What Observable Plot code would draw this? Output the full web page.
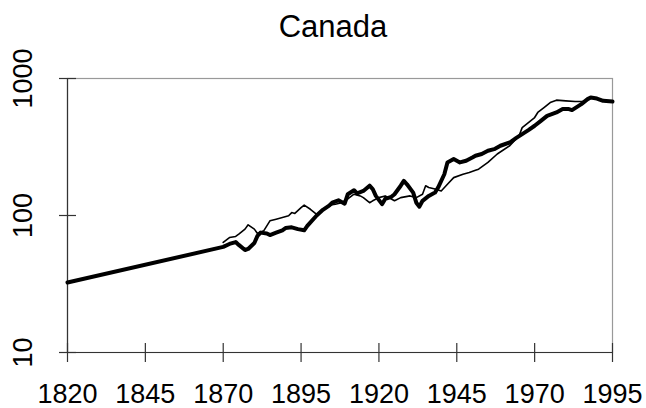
<!DOCTYPE html>
<html>
<head>
<meta charset="utf-8">
<script src="https://cdn.jsdelivr.net/npm/d3@7"></script>
<script src="https://cdn.jsdelivr.net/npm/@observablehq/plot@0.6"></script>
<style>
  html, body { margin: 0; padding: 0; background: #fff; }
  #title { width: 646px; height: 39px; padding-top: 11px; padding-left: 20px; box-sizing: content-box;
           text-align: center; font-family: "Liberation Sans", Arial, sans-serif; font-size: 31px; line-height: 31px; color: #000; width: 626px; }
  svg { display: block; }
</style>
</head>
<body>
<div id="title">Canada</div>
<div id="chart"></div>
<script>
const xTicks = [1820, 1845, 1870, 1895, 1920, 1945, 1970, 1995];
const yTicks = [10, 100, 1000];

const thickYears = [1820, 1870, 1872, 1874, 1875, 1877, 1878, 1880, 1881, 1882, 1884, 1885, 1887, 1889, 1890, 1892, 1894, 1896, 1897, 1900, 1902, 1904, 1905, 1907, 1909, 1910, 1912, 1913, 1915, 1917, 1918, 1919, 1921, 1922, 1924, 1925, 1927, 1928, 1929, 1931, 1932, 1933, 1934, 1936, 1938, 1939, 1941, 1942, 1944, 1946, 1948, 1950, 1951, 1953, 1955, 1957, 1959, 1962, 1964, 1966, 1968, 1970, 1972, 1974, 1977, 1979, 1981, 1982, 1985, 1987, 1988, 1990, 1992, 1995];
const thickValues = [32.4, 59, 62, 64, 61, 56, 57, 63, 71, 75, 74, 72, 75, 78, 81, 82, 79.5, 78, 84, 100, 110, 118, 124, 129, 122, 143, 153, 145, 151, 165, 156, 139, 121, 132, 137, 143, 165, 179, 169, 147, 124, 116, 128, 139, 147, 160, 200, 244, 258, 244, 251, 265, 273, 281, 297, 305, 323, 341, 367, 393, 420, 452, 491, 534, 565, 598, 598, 588, 650, 707, 727, 714, 687, 679];

const thinYears = [1870, 1872, 1874, 1875, 1877, 1878, 1880, 1881, 1883, 1885, 1887, 1889, 1891, 1892, 1893, 1895, 1896, 1898, 1900, 1901, 1903, 1905, 1906, 1908, 1910, 1912, 1914, 1915, 1917, 1918, 1920, 1922, 1924, 1925, 1927, 1930, 1932, 1934, 1935, 1936, 1938, 1940, 1942, 1944, 1947, 1949, 1951, 1952, 1955, 1958, 1962, 1965, 1966, 1968, 1970, 1971, 1973, 1975, 1977, 1980, 1983, 1986, 1988];
const thinValues = [63.6, 69, 70.3, 73, 79.5, 85.5, 79.5, 74, 77.3, 91.4, 94, 96.6, 99.5, 105, 103.5, 114, 119, 111, 102, 106, 113, 120, 121, 124, 132, 143, 139, 135, 124, 128, 135, 139, 132, 128, 135, 139, 135, 143, 165, 160, 156, 151, 169, 189, 200, 206, 214, 218, 244, 281, 323, 382, 438, 477, 519, 565, 614, 668, 695, 687, 679, 679, 720];

const thick = thickYears.map((y, i) => ({year: y, value: thickValues[i]}));
const thin = thinYears.map((y, i) => ({year: y, value: thinValues[i]}));

const W = 646, H = 358;
const mt = 28, mb = 56, ml = 67, mr = 34;
const fw = W - ml - mr, fh = H - mt - mb;
const font = "'Liberation Sans', Arial, sans-serif";

const chart = Plot.plot({
  width: W,
  height: H,
  marginTop: mt,
  marginBottom: mb,
  marginLeft: ml,
  marginRight: mr,
  style: {fontFamily: font, background: "#fff", color: "#000", overflow: "visible"},
  x: {domain: [1820, 1995], axis: null},
  y: {type: "log", domain: [10, 1000], axis: null},
  marks: [
    Plot.frame({stroke: "#999", strokeWidth: 1.2}),
    Plot.ruleX([1820], {stroke: "#333", strokeWidth: 1.2}),
    Plot.ruleY([10], {stroke: "#333", strokeWidth: 1.2}),
    Plot.tickY(yTicks, {y: d => d, insetLeft: -8, insetRight: fw - 9, stroke: "#333", strokeWidth: 1.2}),
    Plot.tickX(xTicks, {x: d => d, insetTop: fh - 9, insetBottom: -10, stroke: "#333", strokeWidth: 1.2}),
    Plot.line(thin, {x: "year", y: "value", stroke: "#000", strokeWidth: 1.6}),
    Plot.line(thick, {x: "year", y: "value", stroke: "#000", strokeWidth: 4}),
    Plot.axisX({ticks: xTicks, tickSize: 0, tickPadding: 31, fontSize: 27, tickFormat: d => String(d), label: null, fill: "#000"}),
    Plot.text(yTicks, {y: d => d, text: d => String(d), frameAnchor: "left", dx: -44, rotate: -90, fontSize: 27, textAnchor: "middle", lineAnchor: "middle", fill: "#000"})
  ]
});
document.getElementById("chart").appendChild(chart);
</script>
</body>
</html>
